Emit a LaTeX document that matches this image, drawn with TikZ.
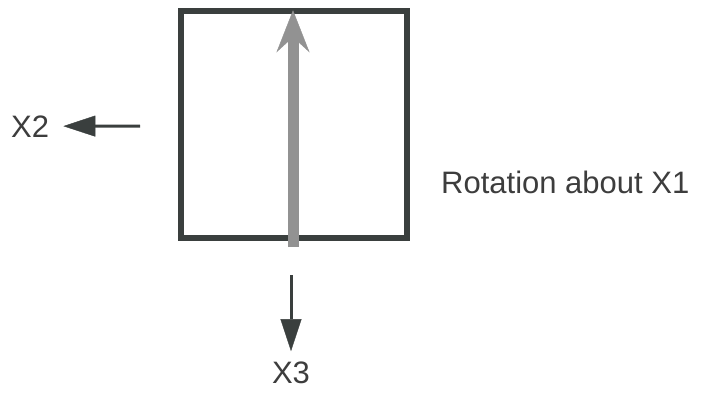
\documentclass[tikz,border=0pt]{standalone}
\usepackage{fontspec}
\setmainfont{Liberation Sans}
\usepackage{tikz}
\usetikzlibrary{arrows.meta}
\usepackage{xcolor}
\definecolor{ink}{HTML}{3A3F3E}
\definecolor{shade}{HTML}{929292}
\definecolor{textgray}{HTML}{3D3D3D}
\tikzset{
  frame/.style={draw=ink, line width=5.5pt, minimum width=226pt, minimum height=227pt,
    inner sep=0pt, fill=white},
  label/.style={inner sep=0pt, text=textgray},
  axis/.style={-{Triangle[length=32pt, width=21pt, line width=0.4pt]}, line width=3pt, draw=ink},
  rotarrow/.style={-{Stealth[length=42pt, width=33pt, inset=15pt, line width=0.4pt]},
    line width=11pt, draw=shade}
}
\begin{document}
\begin{tikzpicture}[font=\fontsize{31}{37}\selectfont, x=1pt, y=-1pt]
  \useasboundingbox (0,0) rectangle (706,394);

  % box seen along X1
  \node[frame] (box) at (294,124.5) {};
  \coordinate (x1tail) at (293,247);
  \draw[rotarrow, shorten >=2pt] (x1tail) -- (x1tail |- box.north);

  % axes
  \node[label, anchor=base west] (x2) at (11,137) {X2};
  \coordinate (x2tail) at (140,126);
  \draw[axis, shorten >=14pt] (x2tail) -- (x2.east);

  \node[label, anchor=base] (x3) at (291,383) {X3};
  \coordinate (x3tail) at (291,275);
  \draw[axis, shorten >=10pt] (x3tail) -- (x3.north);

  \node[label, anchor=base west] (caption) at (441,193.5) {Rotation about X1};
\end{tikzpicture}
\end{document}
